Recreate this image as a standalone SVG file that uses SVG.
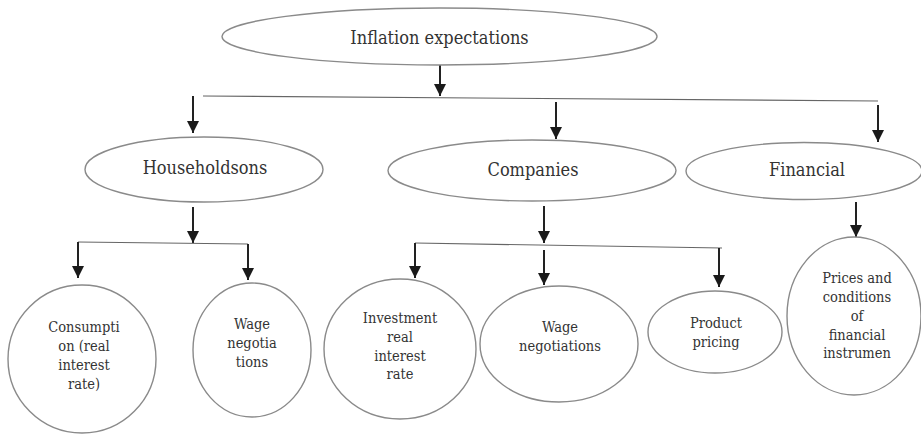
<svg xmlns="http://www.w3.org/2000/svg" width="921" height="434" viewBox="0 0 921 434">
<style>
.shape{fill:#fff;stroke:#8a8a8a;stroke-width:1.4}
text{font-family:'DejaVu Serif Condensed','DejaVu Serif',serif;font-stretch:condensed;fill:#333;text-anchor:middle}
.big{font-size:18px}
.sm{font-size:14.5px}
.line{stroke:#666;stroke-width:1.2;fill:none}
.arr{stroke:#222;stroke-width:2;fill:none;marker-end:url(#ah)}
</style>
<defs>
<marker id="ah" markerUnits="userSpaceOnUse" markerWidth="12" markerHeight="12" refX="12" refY="6" orient="auto">
<path d="M0,0 L12,6 L0,12 Z" fill="#1a1a1a"/>
</marker>
</defs>
<rect width="921" height="434" fill="#fff"/>
<g id="connectors">
<line class="arr" x1="440" y1="65" x2="440" y2="96"/>
<line class="line" x1="203" y1="96" x2="878" y2="101"/>
<line class="arr" x1="193" y1="96" x2="193" y2="133"/>
<line class="arr" x1="556" y1="102" x2="556" y2="139"/>
<line class="arr" x1="878" y1="105" x2="878" y2="142"/>
<line class="arr" x1="193" y1="207" x2="193" y2="243"/>
<line class="line" x1="78" y1="242" x2="248" y2="244"/>
<line class="arr" x1="78" y1="242" x2="78" y2="278"/>
<line class="arr" x1="248" y1="244" x2="248" y2="280"/>
<line class="arr" x1="544" y1="206" x2="544" y2="243"/>
<line class="line" x1="415" y1="243" x2="722" y2="248"/>
<line class="arr" x1="415" y1="243" x2="415" y2="278"/>
<line class="arr" x1="544" y1="250" x2="544" y2="285"/>
<line class="arr" x1="719" y1="248" x2="719" y2="287"/>
<line class="arr" x1="856" y1="202" x2="856" y2="237"/>
</g>
<g id="inflation">
<ellipse class="shape" cx="439.5" cy="36.5" rx="217.5" ry="28.5"/>
<text class="big" x="439.5" y="44">Inflation expectations</text>
</g>
<g id="households">
<ellipse class="shape" cx="204" cy="169.5" rx="119" ry="32.5"/>
<text class="big" x="205" y="174">Householdsons</text>
</g>
<g id="companies">
<ellipse class="shape" cx="532" cy="170.5" rx="144" ry="30.5"/>
<text class="big" x="533" y="176">Companies</text>
</g>
<g id="financial">
<ellipse class="shape" cx="804" cy="171" rx="118" ry="28.5"/>
<text class="big" x="807" y="176">Financial</text>
</g>
<g id="consumption">
<ellipse class="shape" cx="82" cy="359" rx="74" ry="74"/>
<text class="sm" x="84" y="332">Consumpti</text>
<text class="sm" x="84" y="351">on (real</text>
<text class="sm" x="84" y="370">interest</text>
<text class="sm" x="84" y="389">rate)</text>
</g>
<g id="wage-households">
<ellipse class="shape" cx="252" cy="350" rx="59" ry="67"/>
<text class="sm" x="252" y="329">Wage</text>
<text class="sm" x="252" y="348">negotia</text>
<text class="sm" x="252" y="367">tions</text>
</g>
<g id="investment">
<ellipse class="shape" cx="400" cy="349" rx="76" ry="70"/>
<text class="sm" x="400" y="323">Investment</text>
<text class="sm" x="400" y="342">real</text>
<text class="sm" x="400" y="361">interest</text>
<text class="sm" x="400" y="379">rate</text>
</g>
<g id="wage-companies">
<ellipse class="shape" cx="559" cy="344" rx="79" ry="58"/>
<text class="sm" x="560" y="332">Wage</text>
<text class="sm" x="560" y="351">negotiations</text>
</g>
<g id="product-pricing">
<ellipse class="shape" cx="715" cy="332" rx="67" ry="41"/>
<text class="sm" x="716" y="328">Product</text>
<text class="sm" x="716" y="347">pricing</text>
</g>
<g id="prices">
<ellipse class="shape" cx="854" cy="316" rx="67" ry="79"/>
<text class="sm" x="857" y="283">Prices and</text>
<text class="sm" x="857" y="302">conditions</text>
<text class="sm" x="857" y="321">of</text>
<text class="sm" x="857" y="340">financial</text>
<text class="sm" x="857" y="358">instrumen</text>
</g>
</svg>
